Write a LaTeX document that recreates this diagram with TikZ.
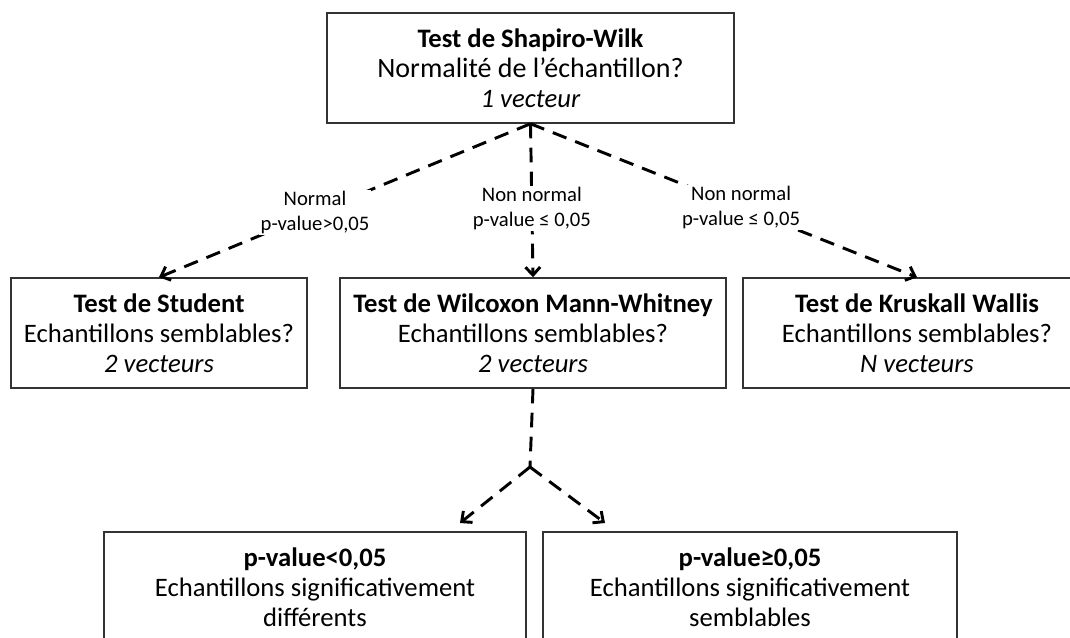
\documentclass[tikz,border=0pt]{standalone}
\usepackage{fontspec}
\setmainfont{Carlito}
\usetikzlibrary{arrows.meta}

\begin{document}
\begin{tikzpicture}[x=0.75pt,y=-0.75pt,
    testbox/.style={draw=black!80,line width=1.1pt,align=center,
                    font=\fontsize{20}{22.5}\selectfont,
                    minimum height=82.5pt,inner sep=0pt},
    cond/.style={fill=white,align=center,inner sep=1pt,
                 font=\fontsize{15.5}{18.75}\selectfont},
    branch/.style={-{Straight Barb[length=6pt,width=11pt]},line width=2.2pt,
                   dash pattern=on 11pt off 7pt}]
  \useasboundingbox (0,0) rectangle (1070,637);
  \clip (0,0) rectangle (1070,637);

  % tests
  \node[testbox,minimum width=305pt] (shapiro) at (530.5,68)
    {\textbf{Test de Shapiro-Wilk}\\
     {\fontsize{21}{22.5}\selectfont Normalité de l’échantillon?}\\
     \textit{1 vecteur}};
  \node[testbox,minimum width=222pt] (student) at (159,333)
    {\textbf{Test de Student}\\ Echantillons semblables?\\ \textit{2 vecteurs}};
  \node[testbox,minimum width=289.5pt] (wilcoxon) at (533,333)
    {\textbf{Test de Wilcoxon Mann-Whitney}\\ Echantillons semblables?\\ \textit{2 vecteurs}};
  \node[testbox,minimum width=261pt] (kruskall) at (917,333)
    {\textbf{Test de Kruskall Wallis}\\ Echantillons semblables?\\ \textit{N vecteurs}};

  % outcomes
  \node[testbox,minimum width=316.5pt] (differents) at (315,587)
    {\textbf{p-value<0,05}\\ Echantillons significativement\\ différents};
  \node[testbox,minimum width=310.5pt] (semblables) at (750,587)
    {\textbf{p-value≥0,05}\\ Echantillons significativement\\ semblables};

  \coordinate (split) at (530,467);
  \coordinate (tipL) at (460,523);
  \coordinate (tipR) at (605,523);

  \draw[branch] (shapiro.south) -- (student.north)
    node[cond,pos=0.58] {Normal\\ p-value>0,05};
  \draw[branch] (shapiro.south) -- (wilcoxon.north)
    node[cond,pos=0.55] {Non normal\\ p-value ≤ 0,05};
  \draw[branch] (shapiro.south) -- (kruskall.north)
    node[cond,pos=0.545] {Non normal\\ p-value ≤ 0,05};

  \draw[branch,-] (wilcoxon.south) -- (split);
  \draw[branch] (split) -- (tipL);
  \draw[branch] (split) -- (tipR);
\end{tikzpicture}
\end{document}
